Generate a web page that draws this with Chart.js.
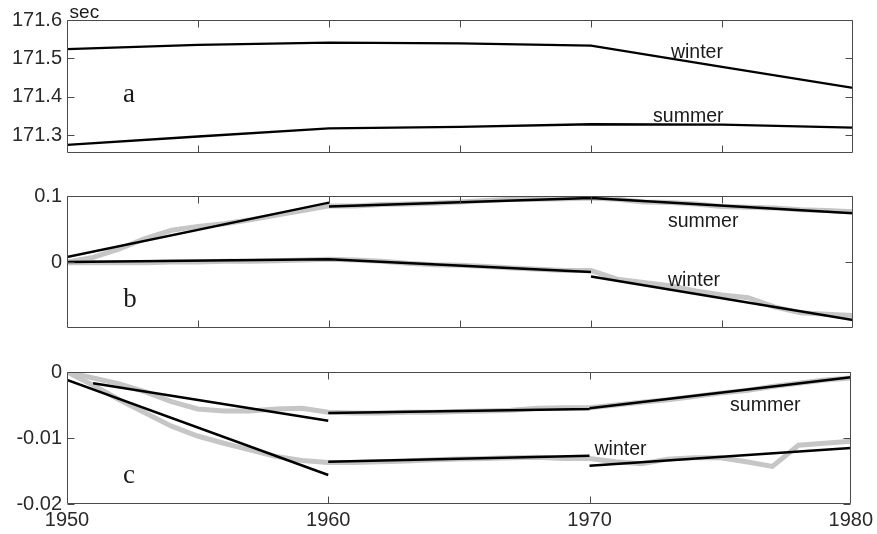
<!DOCTYPE html>
<html>
<head>
<meta charset="utf-8">
<script src="https://cdn.jsdelivr.net/npm/chart.js@4.4.1/dist/chart.umd.min.js"></script>
<style>
  html, body { margin: 0; padding: 0; background: #fff; }
  #wrap { position: relative; width: 877px; height: 534px; }
  #wrap canvas { position: absolute; left: 0; top: 0; }
</style>
</head>
<body>
<div id="wrap">
  <canvas id="panelA" width="877" height="534"></canvas>
  <canvas id="panelB" width="877" height="534"></canvas>
  <canvas id="panelC" width="877" height="534"></canvas>
</div>
<script>
// yearly samples for the grey (raw) curves
const years = [1950,1951,1952,1953,1954,1955,1956,1957,1958,1959,
               1960,1961,1962,1963,1964,1965,1966,1967,1968,1969,
               1970,1971,1972,1973,1974,1975,1976,1977,1978,1979,1980];

// panel a (sec), sampled every 5 years
const aYears  = [1950, 1955, 1960, 1965, 1970, 1975, 1980];
const aWinter = [171.524, 171.535, 171.541, 171.539, 171.533, 171.478, 171.423];
const aSummer = [171.274, 171.296, 171.317, 171.321, 171.328, 171.327, 171.319];

// panel b raw
const bSummerRaw = [0.000, 0.007, 0.020, 0.036, 0.048, 0.054, 0.058, 0.064, 0.071, 0.078,
                    0.085, 0.085, 0.087, 0.088, 0.089, 0.091, 0.093, 0.095, 0.095, 0.096,
                    0.097, 0.095, 0.091, 0.090, 0.088, 0.084, 0.083, 0.082, 0.079, 0.078, 0.076];
const bWinterRaw = [-0.001, -0.001, -0.001, -0.001, 0.000, 0.000, 0.001, 0.001, 0.002, 0.003,
                    0.004, 0.003, 0.001, -0.002, -0.004, -0.005, -0.007, -0.009, -0.011, -0.013,
                    -0.013, -0.026, -0.031, -0.036, -0.044, -0.050, -0.054, -0.068, -0.077, -0.079, -0.081];

// panel c raw
const cSummerRaw = [0.0000, -0.0009, -0.0018, -0.0030, -0.0045, -0.0056, -0.0059, -0.0059, -0.0056, -0.0055,
                    -0.0061, -0.0062, -0.0062, -0.0061, -0.0061, -0.0060, -0.0059, -0.0058, -0.0055, -0.0054,
                    -0.0054, -0.0050, -0.0046, -0.0042, -0.0037, -0.0032, -0.0028, -0.0022, -0.0017, -0.0012, -0.0009];
const cWinterRaw = [0.0000, -0.0020, -0.0042, -0.0062, -0.0082, -0.0097, -0.0108, -0.0118, -0.0128, -0.0134,
                    -0.0137, -0.0137, -0.0136, -0.0135, -0.0133, -0.0132, -0.0131, -0.0130, -0.0129, -0.0131,
                    -0.0131, -0.0136, -0.0139, -0.0132, -0.0130, -0.0130, -0.0136, -0.0143, -0.0111, -0.0108, -0.0105];

// piecewise linear fits: one segment per decade
const fitFrom = [1950, 1960, 1970];
const fitTo   = [1960, 1970, 1980];
const cSummerFrom = [1951, 1960, 1970];
const bSummerFitStart = [0.0076, 0.084, 0.097];
const bSummerFitEnd   = [0.090, 0.097, 0.074];
const bWinterFitStart = [0.000, 0.004, -0.022];
const bWinterFitEnd   = [0.004, -0.015, -0.088];
const cSummerFitStart = [-0.0017, -0.0062, -0.0055];
const cSummerFitEnd   = [-0.0074, -0.0056, -0.0008];
const cWinterFitStart = [-0.0012, -0.0136, -0.0142];
const cWinterFitEnd   = [-0.0156, -0.0127, -0.0115];

// ticks
const aYTicks = [171.3, 171.4, 171.5, 171.6];
const aYLabels = ['171.3', '171.4', '171.5', '171.6'];
const bYTicks = [0, 0.1];
const bYLabels = ['0', '0.1'];
const cYTicks = [-0.02, -0.01, 0];
const cYLabels = ['-0.02', '-0.01', '0'];
const abXTicks = [1955, 1960, 1965, 1970, 1975];
const cXTicks = [1950, 1960, 1970, 1980];
const cXLabels = ['1950', '1960', '1970', '1980'];

const SANS = '"Liberation Sans", Arial, sans-serif';
const SERIF = '"Liberation Serif", "Times New Roman", serif';
const GREY = '#c6c6c6';

function pts(xs, ys){ return xs.map((x, i) => ({x, y: ys[i]})); }
function segs(from, to, s, e){
  const out = [];
  from.forEach((f, i) => {
    out.push({x: f, y: s[i]}, {x: to[i], y: e[i]});
    if (i < from.length - 1) out.push({x: to[i], y: null});
  });
  return out;
}
function black(data, w){ return {data, borderColor:'#000', borderWidth:w, pointRadius:0, tension:0, spanGaps:false, order:1}; }
function grey(data){ return {data, borderColor:GREY, borderWidth:5, pointRadius:0, tension:0, order:2}; }

// box with inward ticks + text notes (MATLAB look)
const frame = {
  id: 'frame',
  afterDatasetsDraw(chart, args, opts){
    const {ctx, chartArea: ca} = chart;
    const xs = chart.scales.x, ys = chart.scales.y;
    const L = Math.round(ca.left) + 0.5, R = Math.round(ca.right) - 0.5;
    const T = Math.round(ca.top) + 0.5, B = Math.round(ca.bottom) - 0.5;
    ctx.save();
    ctx.strokeStyle = '#4a4a4a';
    ctx.lineWidth = 1;
    ctx.beginPath();
    ctx.rect(L, T, R - L, B - T);
    opts.xTicks.forEach(v => {
      const px = Math.round(xs.getPixelForValue(v)) + 0.5;
      ctx.moveTo(px, T); ctx.lineTo(px, T + 7);
      ctx.moveTo(px, B); ctx.lineTo(px, B - 7);
    });
    opts.yTicks.forEach(v => {
      const py = Math.round(ys.getPixelForValue(v)) + 0.5;
      ctx.moveTo(L, py); ctx.lineTo(L + 7, py);
      ctx.moveTo(R, py); ctx.lineTo(R - 7, py);
    });
    ctx.stroke();
    ctx.fillStyle = '#1a1a1a';
    ctx.textBaseline = 'alphabetic';
    opts.notes.forEach(n => {
      ctx.font = n.font;
      ctx.textAlign = n.align || 'left';
      ctx.fillText(n.text, xs.getPixelForValue(n.x), ys.getPixelForValue(n.y));
    });
    ctx.restore();
  }
};

function makePanel(id, cfg){
  const yTicks = cfg.yTicks, yLabels = cfg.yLabels;
  const xScale = {
    type: 'linear', min: 1950, max: 1980, display: !!cfg.xLabels,
    grid: {display: false, drawTicks: false}, border: {display: false}
  };
  if (cfg.xLabels) {
    xScale.afterBuildTicks = s => { s.ticks = cfg.xLabelTicks.map(v => ({value: v})); };
    xScale.afterFit = s => { s.height = 30; };
    xScale.ticks = {autoSkip: false, maxRotation: 0, padding: 4, color: '#2a2a2a',
                    font: {family: SANS, size: 20}, callback: (v, i) => cfg.xLabels[i]};
  }
  return new Chart(document.getElementById(id), {
    type: 'line',
    data: {datasets: cfg.datasets},
    options: {
      responsive: false, animation: false, devicePixelRatio: 1,
      layout: {padding: {left: 0, right: 24, top: cfg.top, bottom: cfg.bottom}},
      plugins: {legend: {display: false}, tooltip: {enabled: false},
                frame: {xTicks: cfg.xTicks, yTicks: yTicks, notes: cfg.notes}},
      scales: {
        x: xScale,
        y: {
          min: cfg.yMin, max: cfg.yMax,
          afterFit: s => { s.width = 67; },
          afterBuildTicks: s => { s.ticks = yTicks.map(v => ({value: v})); },
          grid: {display: false, drawTicks: false}, border: {display: false},
          ticks: {autoSkip: false, padding: 5, color: '#2a2a2a',
                  font: {family: SANS, size: 20}, callback: (v, i) => yLabels[i]}
        }
      }
    },
    plugins: [frame]
  });
}

const note = (text, x, y) => ({text, x, y, font: '19.5px ' + SANS});
const letter = (text, x, y) => ({text, x, y, font: '27px ' + SERIF, align: 'center'});

makePanel('panelA', {
  top: 20, bottom: 381, yMin: 171.253, yMax: 171.6,
  yTicks: aYTicks, yLabels: aYLabels, xTicks: abXTicks,
  datasets: [black(pts(aYears, aWinter), 2.3), black(pts(aYears, aSummer), 2.3)],
  notes: [note('winter', 1973.05, 171.501), note('summer', 1972.37, 171.334),
          letter('a', 1952.37, 171.386), {text: 'sec', x: 1950.1, y: 171.606, font: '19px ' + SANS}]
});

makePanel('panelB', {
  top: 196, bottom: 206, yMin: -0.1, yMax: 0.1,
  yTicks: bYTicks, yLabels: bYLabels, xTicks: abXTicks,
  datasets: [
    black(segs(fitFrom, fitTo, bSummerFitStart, bSummerFitEnd), 2.5),
    black(segs(fitFrom, fitTo, bWinterFitStart, bWinterFitEnd), 2.5),
    grey(pts(years, bSummerRaw)), grey(pts(years, bWinterRaw))
  ],
  notes: [note('summer', 1972.94, 0.053), note('winter', 1972.94, -0.0364), letter('b', 1952.4, -0.068)]
});

makePanel('panelC', {
  top: 372, bottom: 0, yMin: -0.02, yMax: 0,
  yTicks: cYTicks, yLabels: cYLabels, xTicks: [1960, 1970],
  xLabelTicks: cXTicks, xLabels: cXLabels,
  datasets: [
    black(segs(cSummerFrom, fitTo, cSummerFitStart, cSummerFitEnd), 2.5),
    black(segs(fitFrom, fitTo, cWinterFitStart, cWinterFitEnd), 2.5),
    grey(pts(years, cSummerRaw)), grey(pts(years, cWinterRaw))
  ],
  notes: [note('summer', 1975.38, -0.0059), note('winter', 1970.19, -0.01258), letter('c', 1952.37, -0.0168)]
});
</script>
</body>
</html>
